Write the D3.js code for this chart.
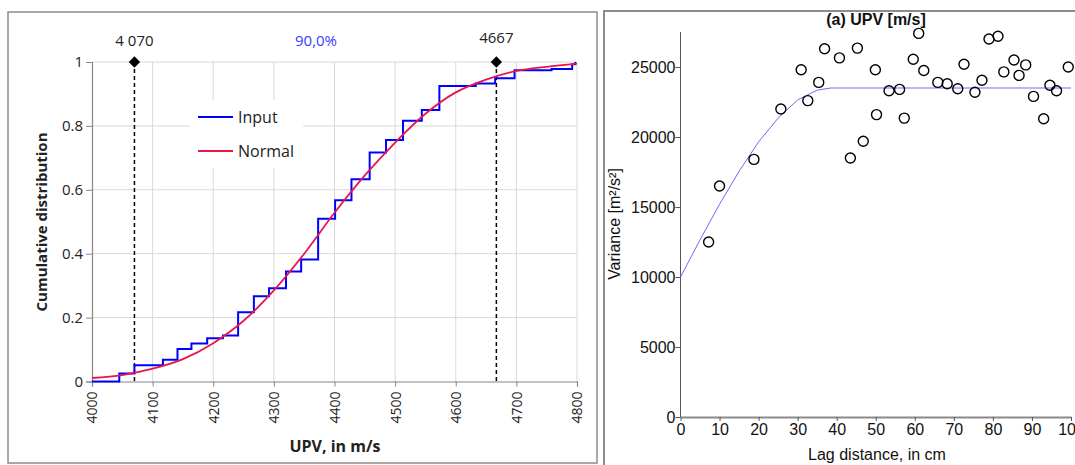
<!DOCTYPE html>
<html>
<head>
<meta charset="utf-8">
<script src="https://cdn.jsdelivr.net/npm/d3@7"></script>
<style>
  body { margin: 0; background: #fff; }
  svg { display: block; }
</style>
</head>
<body>
<svg id="chart" width="1075" height="465"></svg>
<script>
// left: empirical CDF (step) vs fitted normal
const stepX = [4000, 4045, 4070, 4117, 4141, 4164, 4190, 4216, 4241, 4267, 4292, 4320, 4345, 4373, 4401,
  4428, 4458, 4485, 4513, 4544, 4573, 4633, 4665, 4697, 4758, 4792, 4797];
const stepY = [0, 0.025, 0.051, 0.068, 0.102, 0.119, 0.135, 0.144, 0.217, 0.267, 0.292, 0.344, 0.382, 0.509, 0.567,
  0.633, 0.717, 0.756, 0.816, 0.85, 0.925, 0.933, 0.949, 0.974, 0.978, 0.993, 1.0];
const normX = [4000, 4050, 4100, 4150, 4200, 4250, 4300, 4350, 4400, 4450, 4500, 4550, 4600, 4650, 4700, 4750, 4800];
const normY = [0.011, 0.02, 0.04, 0.07, 0.12, 0.19, 0.285, 0.40, 0.528, 0.645, 0.748, 0.838, 0.905, 0.945, 0.972, 0.985, 0.995];
const lowQ = 4070, highQ = 4667;
const lowLabel = '4 070', highLabel = '4667', midLabel = '90,0%';
const upvTicks = [4000, 4100, 4200, 4300, 4400, 4500, 4600, 4700, 4800];
const cdfTicks = [0, 0.2, 0.4, 0.6, 0.8, 1];

// right: experimental variogram + model
const lagX = [7.2, 10, 18.8, 25.7, 30.9, 32.6, 35.4, 36.9, 40.7, 43.5, 45.3, 46.8, 49.9, 50.2, 53.4, 56.1, 57.3,
  59.6, 61, 62.3, 65.9, 68.3, 71, 72.6, 75.4, 77.2, 79, 81.3, 82.8, 85.4, 86.7, 88.4, 90.4, 93, 94.6, 96.3, 99.3];
const lagV = [12500, 16500, 18400, 22000, 24800, 22600, 23900, 26300, 25650, 18500, 26350, 19700, 24800, 21600, 23300, 23400, 21350,
  25550, 27400, 24750, 23900, 23800, 23450, 25200, 23200, 24050, 27000, 27200, 24650, 25500, 24400, 25150, 22900, 21300, 23700, 23300, 25000];
const modelX = [0, 5, 10, 15, 20, 25, 30, 35, 38.5, 100];
const modelV = [10000, 12650, 15200, 17550, 19650, 21350, 22650, 23350, 23500, 23500];
const lagTicks = [0, 10, 20, 30, 40, 50, 60, 70, 80, 90, 100];
const varTicks = [0, 5000, 10000, 15000, 20000, 25000];

const svg = d3.select('#chart');

// ---------- left panel ----------
svg.append('rect')
  .attr('x', 8).attr('y', 12).attr('width', 589).attr('height', 451)
  .attr('fill', '#fff').attr('stroke', '#8c8c8c').attr('stroke-width', 1.5);

const L = { left: 92, right: 577, top: 62, bottom: 381.5 };
const x1 = d3.scaleLinear().domain([4000, 4800]).range([L.left, L.right]);
const y1 = d3.scaleLinear().domain([0, 1]).range([L.bottom, L.top]);
const gL = svg.append('g').style('font-family', '"Open Sans", sans-serif');

// grid
gL.append('g').selectAll('line').data(upvTicks.slice(1)).join('line')
  .attr('x1', d => x1(d)).attr('x2', d => x1(d))
  .attr('y1', L.top).attr('y2', L.bottom)
  .attr('stroke', '#d9d9d9').attr('stroke-width', 1);
gL.append('g').selectAll('line').data(cdfTicks.slice(1)).join('line')
  .attr('x1', L.left).attr('x2', L.right)
  .attr('y1', d => y1(d)).attr('y2', d => y1(d))
  .attr('stroke', '#d9d9d9').attr('stroke-width', 1);

// axes
const xAxisL = gL.append('g').attr('transform', `translate(0,${L.bottom})`)
  .call(d3.axisBottom(x1).tickValues(upvTicks).tickSize(5).tickFormat(d3.format('d')));
const yAxisL = gL.append('g').attr('transform', `translate(${L.left},0)`)
  .call(d3.axisLeft(y1).tickValues(cdfTicks).tickSize(6).tickFormat(d => d === 0 || d === 1 ? d : d3.format('.1f')(d)));
[xAxisL, yAxisL].forEach(a => {
  a.select('.domain').attr('stroke', '#868686').attr('stroke-width', 1.2);
  a.selectAll('.tick line').attr('stroke', '#868686');
  a.selectAll('text').attr('fill', '#222').style('font-size', '15px').style('font-family', '"Open Sans", sans-serif');
});
xAxisL.selectAll('text')
  .style('font-size', '14px')
  .attr('transform', 'rotate(-90)')
  .attr('text-anchor', 'end')
  .attr('x', -10).attr('y', 0).attr('dy', '0.35em');
yAxisL.selectAll('text').attr('x', -9);

// legend box (drawn before the lines)
const leg = gL.append('g');
leg.append('rect').attr('x', 190).attr('y', 100).attr('width', 113).attr('height', 68).attr('fill', '#fff');
[['Input', '#0000ff', 117], ['Normal', '#e8174a', 151]].forEach(([t, c, yy]) => {
  leg.append('line').attr('x1', 198).attr('x2', 233).attr('y1', yy).attr('y2', yy)
    .attr('stroke', c).attr('stroke-width', 2);
  leg.append('text').attr('x', 238).attr('y', yy).attr('dy', '0.35em')
    .style('font-size', '16px').attr('fill', '#222').text(t);
});

// dashed quantile lines
[lowQ, highQ].forEach(q => {
  gL.append('line').attr('x1', x1(q)).attr('x2', x1(q)).attr('y1', y1(1)).attr('y2', L.bottom)
    .attr('stroke', '#000').attr('stroke-width', 1.5).attr('stroke-dasharray', '4,3');
});

// step (input)
const stepPts = stepX.map((d, i) => [d, stepY[i]]);
gL.append('path').datum(stepPts)
  .attr('d', d3.line().x(d => x1(d[0])).y(d => y1(d[1])).curve(d3.curveStepAfter))
  .attr('fill', 'none').attr('stroke', '#0000ff').attr('stroke-width', 2);

// normal
const normPts = normX.map((d, i) => [d, normY[i]]);
gL.append('path').datum(normPts)
  .attr('d', d3.line().x(d => x1(d[0])).y(d => y1(d[1])).curve(d3.curveMonotoneX))
  .attr('fill', 'none').attr('stroke', '#e8174a').attr('stroke-width', 1.8);

// diamonds
gL.selectAll('.dia').data([lowQ, highQ]).join('path')
  .attr('class', 'dia')
  .attr('d', d3.symbol().type(d3.symbolSquare).size(64))
  .attr('transform', d => `translate(${x1(d)},${y1(1)}) rotate(45)`)
  .attr('fill', '#000');

// labels on top
gL.append('text').attr('x', x1(lowQ)).attr('y', 46).attr('text-anchor', 'middle')
  .style('font-size', '15px').attr('fill', '#222').text(lowLabel);
gL.append('text').attr('x', x1(highQ)).attr('y', 43).attr('text-anchor', 'middle')
  .style('font-size', '15px').attr('fill', '#222').text(highLabel);
gL.append('text').attr('x', 316).attr('y', 46).attr('text-anchor', 'middle')
  .style('font-size', '15px').attr('fill', '#3a3aff').text(midLabel);

// axis titles
gL.append('text').attr('x', 335).attr('y', 452).attr('text-anchor', 'middle')
  .style('font-size', '16px').style('font-weight', 'bold').attr('fill', '#222').text('UPV, in m/s');
gL.append('text').attr('transform', 'translate(47,222) rotate(-90)').attr('text-anchor', 'middle')
  .style('font-size', '15px').style('font-weight', 'bold').attr('fill', '#222').text('Cumulative distribution');

// ---------- right panel ----------
svg.append('rect')
  .attr('x', 604).attr('y', 11).attr('width', 520).attr('height', 520)
  .attr('fill', '#fff').attr('stroke', '#8c8c8c').attr('stroke-width', 2);

const R = { left: 680.5, right: 1071, top: 32, bottom: 417 };
const x2 = d3.scaleLinear().domain([0, 100]).range([R.left, R.right]);
const y2 = d3.scaleLinear().domain([0, 25000]).range([R.bottom, 67]);
const gR = svg.append('g').style('font-family', '"Liberation Sans", Arial, sans-serif');

const xAxisR = gR.append('g').attr('transform', `translate(0,${R.bottom})`)
  .call(d3.axisBottom(x2).tickValues(lagTicks).tickSize(4).tickSizeOuter(0));
const yAxisR = gR.append('g').attr('transform', `translate(${R.left},0)`)
  .call(d3.axisLeft(y2).tickValues(varTicks).tickSize(5).tickSizeOuter(0).tickFormat(d3.format('d')));
xAxisR.select('.domain').attr('stroke', '#8a8a8a').attr('stroke-width', 2);
yAxisR.select('.domain').attr('d', `M0,${R.bottom}V${R.top}`).attr('stroke', '#555').attr('stroke-width', 1);
[xAxisR, yAxisR].forEach(a => {
  a.selectAll('.tick line').attr('stroke', '#555');
  a.selectAll('text').attr('fill', '#111').style('font-size', '16px').style('font-family', '"Liberation Sans", Arial, sans-serif');
});
xAxisR.selectAll('text').attr('y', 7);
yAxisR.selectAll('text').attr('x', -5);

// model curve
const modelPts = modelX.map((d, i) => [d, modelV[i]]);
gR.append('path').datum(modelPts)
  .attr('d', d3.line().x(d => x2(d[0])).y(d => y2(d[1])))
  .attr('fill', 'none').attr('stroke', '#6a6aff').attr('stroke-width', 1);

// points
gR.selectAll('circle').data(lagX.map((d, i) => [d, lagV[i]])).join('circle')
  .attr('cx', d => x2(d[0])).attr('cy', d => y2(d[1])).attr('r', 5)
  .attr('fill', 'none').attr('stroke', '#000').attr('stroke-width', 1.4);

gR.append('text').attr('x', 876).attr('y', 25).attr('text-anchor', 'middle')
  .style('font-size', '16px').style('font-weight', 'bold').attr('fill', '#111').text('(a) UPV [m/s]');
gR.append('text').attr('x', 877).attr('y', 460).attr('text-anchor', 'middle')
  .style('font-size', '16px').attr('fill', '#111').text('Lag distance, in cm');
gR.append('text').attr('transform', 'translate(620,224) rotate(-90)').attr('text-anchor', 'middle')
  .style('font-size', '16px').attr('fill', '#111').text('Variance [m²/s²]');
</script>
</body>
</html>
